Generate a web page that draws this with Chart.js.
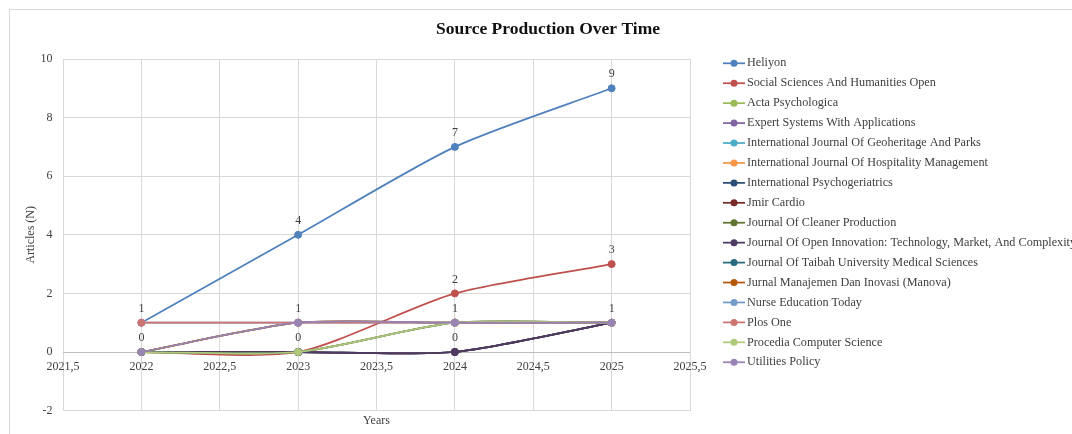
<!DOCTYPE html>
<html>
<head>
<meta charset="utf-8">
<script src="https://cdn.jsdelivr.net/npm/chart.js@4/dist/chart.umd.min.js"></script>
<style>
  html, body { margin: 0; padding: 0; background: #fff; }
  #wrap { position: relative; width: 1072px; height: 434px; }
</style>
</head>
<body>
<div id="wrap"><canvas id="sourceChart"></canvas></div>
<script>
const years = [2022, 2023, 2024, 2025];

const sourceNames = [
    'Heliyon',
    'Social Sciences And Humanities Open',
    'Acta Psychologica',
    'Expert Systems With Applications',
    'International Journal Of Geoheritage And Parks',
    'International Journal Of Hospitality Management',
    'International Psychogeriatrics',
    'Jmir Cardio',
    'Journal Of Cleaner Production',
    'Journal Of Open Innovation: Technology, Market, And Complexity',
    'Journal Of Taibah University Medical Sciences',
    'Jurnal Manajemen Dan Inovasi (Manova)',
    'Nurse Education Today',
    'Plos One',
    'Procedia Computer Science',
    'Utilities Policy'
];

// articles per year (2022..2025)
const heliyon = [1, 4, 7, 9];
const socialSciences = [0, 0, 2, 3];
const actaPsychologica = [0, 0, 1, 1];
const expertSystems = [0, 0, 0, 1];
const geoheritage = [0, 0, 0, 1];
const hospitality = [0, 0, 1, 1];
const psychogeriatrics = [0, 0, 0, 1];
const jmirCardio = [0, 0, 0, 1];
const cleanerProduction = [0, 1, 1, 1];
const openInnovation = [0, 0, 0, 1];
const taibah = [0, 0, 1, 1];
const manova = [0, 1, 1, 1];
const nurseEducation = [1, 1, 1, 1];
const plosOne = [1, 1, 1, 1];
const procedia = [0, 0, 1, 1];
const utilitiesPolicy = [0, 1, 1, 1];

const seriesValues = [
    heliyon, socialSciences, actaPsychologica, expertSystems, geoheritage,
    hospitality, psychogeriatrics, jmirCardio, cleanerProduction, openInnovation,
    taibah, manova, nurseEducation, plosOne, procedia, utilitiesPolicy
];

const seriesColors = [
    '#4F81BD', '#C0504D', '#9BBB59', '#8064A2', '#4BACC6', '#F79646',
    '#2C4D75', '#772C2A', '#5F7530', '#4D3B62', '#276A7C', '#B65708',
    '#729ACA', '#CD7371', '#AFC97A', '#9983B5'
];

const SERIF = '"Liberation Serif", "Times New Roman", serif';
const TEXT = '#404040';

Chart.defaults.font.family = SERIF;
Chart.defaults.font.size = 12;
Chart.defaults.color = TEXT;

const datasets = sourceNames.map((name, i) => ({
    label: name,
    data: years.map((yr, k) => ({ x: yr, y: seriesValues[i][k] })),
    borderColor: seriesColors[i],
    backgroundColor: seriesColors[i],
    pointBackgroundColor: seriesColors[i],
    pointBorderColor: seriesColors[i],
    order: sourceNames.length - i   // later series on top, like Excel
}));

const fmt = v => String(v).replace('.', ',');

// outer chart frame
const framePlugin = {
    id: 'frame',
    beforeDraw(chart) {
        const c = chart.ctx;
        c.save();
        c.strokeStyle = '#d9d9d9';
        c.lineWidth = 1;
        c.strokeRect(9.5, 9.5, 1200, 500);
        c.restore();
    }
};

// x tick labels sit on the zero line
const xLabelsPlugin = {
    id: 'xLabels',
    beforeDatasetsDraw(chart) {
        const { x, y } = chart.scales;
        const c = chart.ctx;
        const y0 = y.getPixelForValue(0) + 14.5;
        c.save();
        c.font = '12px ' + SERIF;
        c.fillStyle = TEXT;
        c.textAlign = 'center';
        c.textBaseline = 'middle';
        x.ticks.forEach(t => {
            c.fillText(fmt(t.value), x.getPixelForValue(t.value), y0);
        });
        c.restore();
    }
};

// value labels above points (one per position)
const valueLabelsPlugin = {
    id: 'valueLabels',
    afterDatasetsDraw(chart) {
        const c = chart.ctx;
        const seen = new Set();
        c.save();
        c.font = '12px ' + SERIF;
        c.fillStyle = TEXT;
        c.textAlign = 'center';
        c.textBaseline = 'middle';
        chart.data.datasets.forEach((ds, i) => {
            const meta = chart.getDatasetMeta(i);
            meta.data.forEach((pt, k) => {
                const v = ds.data[k].y;
                const key = ds.data[k].x + ':' + v;
                if (seen.has(key)) return;
                seen.add(key);
                c.fillText(String(v), pt.x, pt.y - 14);
            });
        });
        c.restore();
    }
};

const titlePlugin = {
    id: 'chartTitle',
    afterDraw(chart) {
        const c = chart.ctx;
        c.save();
        c.font = 'bold 17.5px ' + SERIF;
        c.fillStyle = '#111';
        c.textAlign = 'center';
        c.textBaseline = 'middle';
        c.fillText('Source Production Over Time', 548, 29);
        c.restore();
    }
};

const legendPlugin = {
    id: 'sideLegend',
    afterDraw(chart) {
        const c = chart.ctx;
        c.save();
        c.font = '12.2px ' + SERIF;
        c.textBaseline = 'middle';
        c.textAlign = 'left';
        sourceNames.forEach((name, i) => {
            const yy = 63.3 + i * 19.93;
            c.strokeStyle = seriesColors[i];
            c.fillStyle = seriesColors[i];
            c.lineWidth = 1.75;
            c.beginPath();
            c.moveTo(723, yy);
            c.lineTo(745, yy);
            c.stroke();
            c.beginPath();
            c.arc(734, yy, 3.5, 0, Math.PI * 2);
            c.fill();
            c.fillStyle = TEXT;
            c.fillText(name, 747, yy);
        });
        c.restore();
    }
};

new Chart(document.getElementById('sourceChart'), {
    type: 'line',
    data: { datasets: datasets },
    options: {
        responsive: true,
        maintainAspectRatio: false,
        animation: false,
        layout: { padding: { left: 10, right: 382, top: 59, bottom: 0 } },
        elements: {
            line: { tension: 0.24, borderWidth: 1.75, fill: false },
            point: { radius: 3.5, borderWidth: 1 }
        },
        plugins: {
            legend: { display: false },
            tooltip: { enabled: false }
        },
        scales: {
            x: {
                type: 'linear',
                min: 2021.5,
                max: 2025.5,
                ticks: { stepSize: 0.5, display: false },
                grid: { color: '#d9d9d9', drawTicks: false },
                border: { display: false },
                title: {
                    display: true,
                    text: 'Years',
                    color: TEXT,
                    padding: { top: 0, bottom: 6 }
                },
                afterFit: s => { s.height = 23.4; }
            },
            y: {
                min: -2,
                max: 10,
                ticks: { stepSize: 2, padding: 10.5, color: TEXT },
                grid: {
                    drawTicks: false,
                    color: ctx => (ctx.tick && ctx.tick.value === 0 ? '#bfbfbf' : '#d9d9d9')
                },
                border: { display: false },
                title: {
                    display: true,
                    text: 'Articles (N)',
                    color: TEXT,
                    padding: { top: 14, bottom: 0 }
                },
                afterFit: s => { s.width = 53; }
            }
        }
    },
    plugins: [framePlugin, xLabelsPlugin, valueLabelsPlugin, titlePlugin, legendPlugin]
});
</script>
</body>
</html>
